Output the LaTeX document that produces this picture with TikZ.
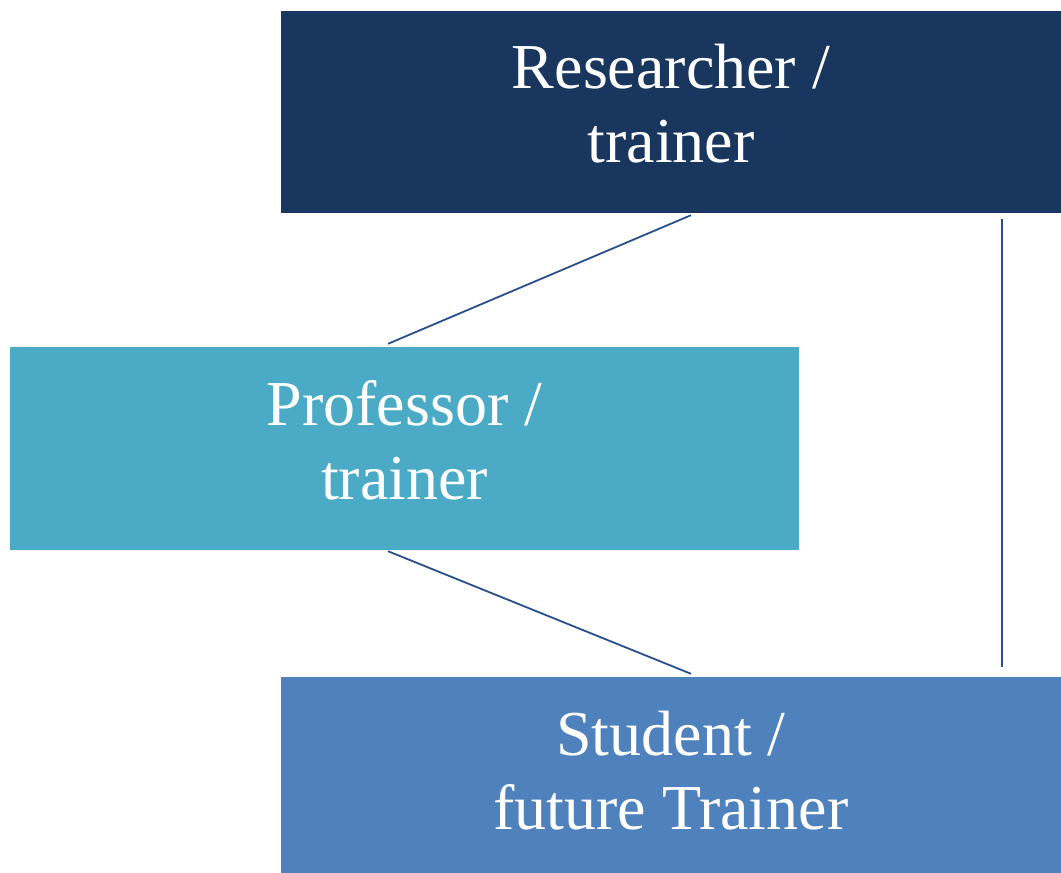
\documentclass[tikz,border=0pt]{standalone}
\usepackage{fontspec}
\setmainfont{Liberation Serif}
\usetikzlibrary{positioning}
\definecolor{researchcolor}{RGB}{24, 54, 94}
\definecolor{professorcolor}{RGB}{75, 171, 198}
\definecolor{studentcolor}{RGB}{79, 129, 189}
\definecolor{linkcolor}{RGB}{40, 78, 140}

\begin{document}
\begin{tikzpicture}[x=1pt, y=-1pt,
        role/.style={minimum width=780pt, minimum height=202pt, inner sep=0pt,
            text depth=18pt, text=white, align=center, font=\fontsize{64}{74}\selectfont},
        link/.style={draw=linkcolor, line width=1.8pt}]
    \useasboundingbox (0,0) rectangle (1061,873);

    % Draw the boxes
    \node[role, fill=researchcolor] (researcher) at (671,112) {Researcher /\\trainer};
    \node[role, fill=professorcolor, minimum width=789pt, minimum height=203pt] (professor) at (404.5,448.5) {Professor /\\trainer};
    \node[role, fill=studentcolor, minimum height=196pt, text depth=10pt] (student) at (671,775) {Student /\\future Trainer};

    % Connect them
    \draw[link] ([xshift=20pt,yshift=-2pt]researcher.south) -- ([xshift=-16.5pt,yshift=3pt]professor.north);
    \draw[link] ([xshift=-16.5pt,yshift=-1pt]professor.south) -- ([xshift=20pt,yshift=3pt]student.north);
    \draw[link] ([xshift=-59pt,yshift=-6pt]researcher.south east) -- ([xshift=-59pt,yshift=10pt]student.north east);
\end{tikzpicture}
\end{document}
